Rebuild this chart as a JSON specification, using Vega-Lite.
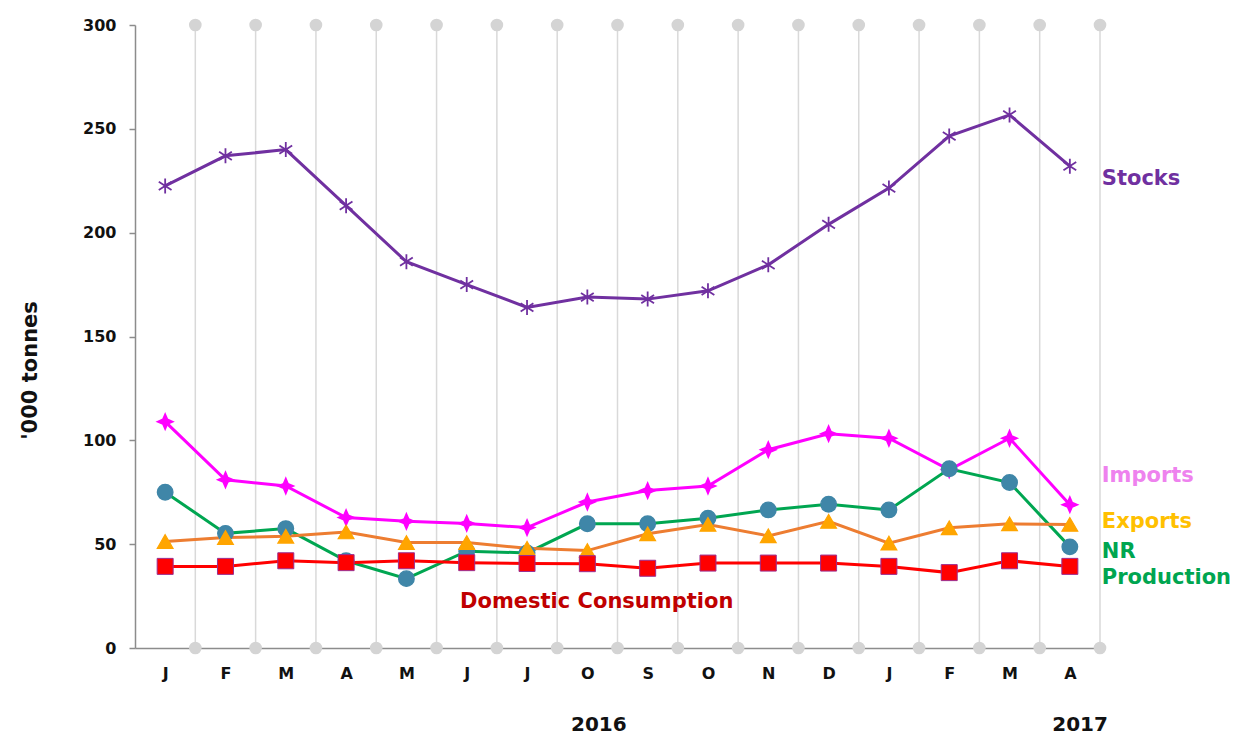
{
  "$schema": "https://vega.github.io/schema/vega-lite/v6.json",
  "width": 965,
  "height": 623,
  "autosize": {"type": "none"},
  "padding": {"left": 135, "top": 25, "right": 137, "bottom": 88},
  "background": "white",
  "config": {"view": {"stroke": null}, "font": "DejaVu Sans"},
  "datasets": {
    "series": [
      {"s": "Stocks", "i": 0, "v": 222.5}, {"s": "Stocks", "i": 1, "v": 237}, {"s": "Stocks", "i": 2, "v": 240}, {"s": "Stocks", "i": 3, "v": 213},
      {"s": "Stocks", "i": 4, "v": 186}, {"s": "Stocks", "i": 5, "v": 175}, {"s": "Stocks", "i": 6, "v": 164}, {"s": "Stocks", "i": 7, "v": 169},
      {"s": "Stocks", "i": 8, "v": 168}, {"s": "Stocks", "i": 9, "v": 172}, {"s": "Stocks", "i": 10, "v": 184.5}, {"s": "Stocks", "i": 11, "v": 204},
      {"s": "Stocks", "i": 12, "v": 221.5}, {"s": "Stocks", "i": 13, "v": 246.5}, {"s": "Stocks", "i": 14, "v": 256.7}, {"s": "Stocks", "i": 15, "v": 232},
      {"s": "Imports", "i": 0, "v": 109}, {"s": "Imports", "i": 1, "v": 81}, {"s": "Imports", "i": 2, "v": 78}, {"s": "Imports", "i": 3, "v": 62.8},
      {"s": "Imports", "i": 4, "v": 61}, {"s": "Imports", "i": 5, "v": 60}, {"s": "Imports", "i": 6, "v": 58}, {"s": "Imports", "i": 7, "v": 70.3},
      {"s": "Imports", "i": 8, "v": 75.8}, {"s": "Imports", "i": 9, "v": 78}, {"s": "Imports", "i": 10, "v": 95.5}, {"s": "Imports", "i": 11, "v": 103.2},
      {"s": "Imports", "i": 12, "v": 101}, {"s": "Imports", "i": 13, "v": 85.8}, {"s": "Imports", "i": 14, "v": 101}, {"s": "Imports", "i": 15, "v": 69},
      {"s": "NR Production", "i": 0, "v": 75}, {"s": "NR Production", "i": 1, "v": 55.2}, {"s": "NR Production", "i": 2, "v": 57.5}, {"s": "NR Production", "i": 3, "v": 42},
      {"s": "NR Production", "i": 4, "v": 33.4}, {"s": "NR Production", "i": 5, "v": 46.6}, {"s": "NR Production", "i": 6, "v": 45.8}, {"s": "NR Production", "i": 7, "v": 59.8},
      {"s": "NR Production", "i": 8, "v": 59.8}, {"s": "NR Production", "i": 9, "v": 62.5}, {"s": "NR Production", "i": 10, "v": 66.5}, {"s": "NR Production", "i": 11, "v": 69.2},
      {"s": "NR Production", "i": 12, "v": 66.5}, {"s": "NR Production", "i": 13, "v": 86.3}, {"s": "NR Production", "i": 14, "v": 79.7}, {"s": "NR Production", "i": 15, "v": 48.7},
      {"s": "Exports", "i": 0, "v": 51.3}, {"s": "Exports", "i": 1, "v": 53.2}, {"s": "Exports", "i": 2, "v": 53.8}, {"s": "Exports", "i": 3, "v": 55.9},
      {"s": "Exports", "i": 4, "v": 50.8}, {"s": "Exports", "i": 5, "v": 50.8}, {"s": "Exports", "i": 6, "v": 48}, {"s": "Exports", "i": 7, "v": 46.9},
      {"s": "Exports", "i": 8, "v": 55}, {"s": "Exports", "i": 9, "v": 59.5}, {"s": "Exports", "i": 10, "v": 54}, {"s": "Exports", "i": 11, "v": 61},
      {"s": "Exports", "i": 12, "v": 50.5}, {"s": "Exports", "i": 13, "v": 57.9}, {"s": "Exports", "i": 14, "v": 59.8}, {"s": "Exports", "i": 15, "v": 59.5},
      {"s": "Domestic Consumption", "i": 0, "v": 39.3}, {"s": "Domestic Consumption", "i": 1, "v": 39.3}, {"s": "Domestic Consumption", "i": 2, "v": 42}, {"s": "Domestic Consumption", "i": 3, "v": 41.1},
      {"s": "Domestic Consumption", "i": 4, "v": 42}, {"s": "Domestic Consumption", "i": 5, "v": 41.1}, {"s": "Domestic Consumption", "i": 6, "v": 40.7}, {"s": "Domestic Consumption", "i": 7, "v": 40.6},
      {"s": "Domestic Consumption", "i": 8, "v": 38.4}, {"s": "Domestic Consumption", "i": 9, "v": 40.9}, {"s": "Domestic Consumption", "i": 10, "v": 40.9}, {"s": "Domestic Consumption", "i": 11, "v": 40.9},
      {"s": "Domestic Consumption", "i": 12, "v": 39.3}, {"s": "Domestic Consumption", "i": 13, "v": 36.3}, {"s": "Domestic Consumption", "i": 14, "v": 42}, {"s": "Domestic Consumption", "i": 15, "v": 39.3}
    ],
    "vlines": [
      {"i": 0.5, "lo": 0, "hi": 300}, {"i": 1.5, "lo": 0, "hi": 300}, {"i": 2.5, "lo": 0, "hi": 300}, {"i": 3.5, "lo": 0, "hi": 300},
      {"i": 4.5, "lo": 0, "hi": 300}, {"i": 5.5, "lo": 0, "hi": 300}, {"i": 6.5, "lo": 0, "hi": 300}, {"i": 7.5, "lo": 0, "hi": 300},
      {"i": 8.5, "lo": 0, "hi": 300}, {"i": 9.5, "lo": 0, "hi": 300}, {"i": 10.5, "lo": 0, "hi": 300}, {"i": 11.5, "lo": 0, "hi": 300},
      {"i": 12.5, "lo": 0, "hi": 300}, {"i": 13.5, "lo": 0, "hi": 300}, {"i": 14.5, "lo": 0, "hi": 300}, {"i": 15.5, "lo": 0, "hi": 300}
    ],
    "labels": [
      {"t": "Stocks", "i": 15.53, "v": 225.8},
      {"t": "Imports", "i": 15.53, "v": 83},
      {"t": "Exports", "i": 15.53, "v": 60.5},
      {"t": "NR", "i": 15.53, "v": 46},
      {"t": "Production", "i": 15.53, "v": 33.5},
      {"t": "Domestic Consumption", "i": 4.89, "v": 22.2},
      {"t": "2016", "i": 7.19, "v": -37.3},
      {"t": "2017", "i": 15.17, "v": -37.3}
    ]
  },
  "layer": [
    {
      "data": {"name": "vlines"},
      "mark": {"type": "rule", "color": "#d9d9d9", "strokeWidth": 1.5},
      "encoding": {
        "x": {
          "field": "i", "type": "quantitative",
          "scale": {"domain": [-0.5, 15.5], "nice": false, "zero": false},
          "axis": {
            "values": [0, 1, 2, 3, 4, 5, 6, 7, 8, 9, 10, 11, 12, 13, 14, 15],
            "labelExpr": "['J','F','M','A','M','J','J','O','S','O','N','D','J','F','M','A'][datum.value]",
            "ticks": false, "grid": false, "title": null,
            "domainColor": "#8c8c8c", "domainWidth": 1.5,
            "labelFont": "DejaVu Sans", "labelFontWeight": "bold", "labelFontSize": 16,
            "labelColor": "#111111", "labelPadding": 17, "labelFlush": false, "labelOverlap": false
          }
        },
        "y": {
          "field": "lo", "type": "quantitative",
          "scale": {"domain": [0, 300], "nice": false, "zero": true},
          "axis": {
            "values": [0, 50, 100, 150, 200, 250, 300],
            "grid": false,
            "title": "'000 tonnes",
            "titleFont": "DejaVu Sans", "titleFontWeight": "bold", "titleFontSize": 21, "titleColor": "#111111",
            "titleX": -105, "titleY": 345, "titleAngle": -90, "titleBaseline": "middle", "titleAlign": "center",
            "domainColor": "#8c8c8c", "domainWidth": 1.5,
            "tickColor": "#8c8c8c", "tickSize": 6, "tickWidth": 1.5,
            "labelFont": "DejaVu Sans", "labelFontWeight": "bold", "labelFontSize": 16,
            "labelColor": "#111111", "labelPadding": 13, "labelFlush": false
          }
        },
        "y2": {"field": "hi"}
      }
    },
    {
      "data": {"name": "vlines"},
      "mark": {"type": "point", "filled": true, "color": "#d4d4d4", "size": 160, "shape": "circle", "opacity": 1},
      "encoding": {
        "x": {"field": "i", "type": "quantitative"},
        "y": {"field": "hi", "type": "quantitative"}
      }
    },
    {
      "data": {"name": "vlines"},
      "mark": {"type": "point", "filled": true, "color": "#d4d4d4", "size": 160, "shape": "circle", "opacity": 1},
      "encoding": {
        "x": {"field": "i", "type": "quantitative"},
        "y": {"field": "lo", "type": "quantitative"}
      }
    },
    {
      "data": {"name": "series"},
      "mark": {"type": "line", "strokeWidth": 3},
      "encoding": {
        "x": {"field": "i", "type": "quantitative"},
        "y": {"field": "v", "type": "quantitative"},
        "color": {
          "field": "s", "type": "nominal", "legend": null,
          "scale": {"domain": ["Stocks", "Imports", "NR Production", "Exports", "Domestic Consumption"],
                    "range": ["#7030a0", "#ff00ff", "#00a651", "#ed7d31", "#ff0000"]}
        },
        "detail": {"field": "s"}
      }
    },
    {
      "data": {"name": "series"},
      "mark": {"type": "point", "filled": true, "opacity": 1},
      "encoding": {
        "x": {"field": "i", "type": "quantitative"},
        "y": {"field": "v", "type": "quantitative"},
        "shape": {
          "field": "s", "type": "nominal", "legend": null,
          "scale": {"domain": ["Stocks", "Imports", "NR Production", "Exports", "Domestic Consumption"],
                    "range": ["M0,-1L0,1M-0.85,-0.55L0.85,0.55M-0.85,0.55L0.85,-0.55", "M0,-1L0.3,-0.3L1,0L0.3,0.3L0,1L-0.3,0.3L-1,0L-0.3,-0.3Z", "circle", "triangle-up", "square"]}
        },
        "fill": {
          "field": "s", "type": "nominal", "legend": null,
          "scale": {"domain": ["Stocks", "Imports", "NR Production", "Exports", "Domestic Consumption"],
                    "range": ["rgba(0,0,0,0)", "#ff00ff", "#3f86a8", "#ffa500", "#ff0000"]}
        },
        "stroke": {
          "field": "s", "type": "nominal", "legend": null,
          "scale": {"domain": ["Stocks", "Imports", "NR Production", "Exports", "Domestic Consumption"],
                    "range": ["#7030a0", "#ff00ff", "#3f86a8", "#ffa500", "#9b2d8f"]}
        },
        "strokeWidth": {
          "field": "s", "type": "nominal", "legend": null,
          "scale": {"domain": ["Stocks", "Imports", "NR Production", "Exports", "Domestic Consumption"],
                    "range": [1.8, 1, 1, 1, 1.5]}
        },
        "size": {
          "field": "s", "type": "nominal", "legend": null,
          "scale": {"domain": ["Stocks", "Imports", "NR Production", "Exports", "Domestic Consumption"],
                    "range": [225, 256, 169, 210, 144]}
        }
      }
    },
    {
      "data": {"name": "labels"},
      "transform": [{"filter": "datum.t == 'Stocks'"}],
      "mark": {"type": "text", "align": "left", "baseline": "middle", "font": "DejaVu Sans", "fontWeight": "bold", "fontSize": 21, "color": "#7030a0"},
      "encoding": {"x": {"field": "i", "type": "quantitative"}, "y": {"field": "v", "type": "quantitative"}, "text": {"field": "t"}}
    },
    {
      "data": {"name": "labels"},
      "transform": [{"filter": "datum.t == 'Imports'"}],
      "mark": {"type": "text", "align": "left", "baseline": "middle", "font": "DejaVu Sans", "fontWeight": "bold", "fontSize": 21, "color": "#ee82ee"},
      "encoding": {"x": {"field": "i", "type": "quantitative"}, "y": {"field": "v", "type": "quantitative"}, "text": {"field": "t"}}
    },
    {
      "data": {"name": "labels"},
      "transform": [{"filter": "datum.t == 'Exports'"}],
      "mark": {"type": "text", "align": "left", "baseline": "middle", "font": "DejaVu Sans", "fontWeight": "bold", "fontSize": 21, "color": "#ffc000"},
      "encoding": {"x": {"field": "i", "type": "quantitative"}, "y": {"field": "v", "type": "quantitative"}, "text": {"field": "t"}}
    },
    {
      "data": {"name": "labels"},
      "transform": [{"filter": "datum.t == 'NR' || datum.t == 'Production'"}],
      "mark": {"type": "text", "align": "left", "baseline": "middle", "font": "DejaVu Sans", "fontWeight": "bold", "fontSize": 21, "color": "#00a550"},
      "encoding": {"x": {"field": "i", "type": "quantitative"}, "y": {"field": "v", "type": "quantitative"}, "text": {"field": "t"}}
    },
    {
      "data": {"name": "labels"},
      "transform": [{"filter": "datum.t == 'Domestic Consumption'"}],
      "mark": {"type": "text", "align": "left", "baseline": "middle", "font": "DejaVu Sans", "fontWeight": "bold", "fontSize": 21, "color": "#c00000"},
      "encoding": {"x": {"field": "i", "type": "quantitative"}, "y": {"field": "v", "type": "quantitative"}, "text": {"field": "t"}}
    },
    {
      "data": {"name": "labels"},
      "transform": [{"filter": "datum.t == '2016' || datum.t == '2017'"}],
      "mark": {"type": "text", "align": "center", "baseline": "middle", "font": "DejaVu Sans", "fontWeight": "bold", "fontSize": 20, "color": "#111111"},
      "encoding": {"x": {"field": "i", "type": "quantitative"}, "y": {"field": "v", "type": "quantitative"}, "text": {"field": "t"}}
    }
  ]
}
